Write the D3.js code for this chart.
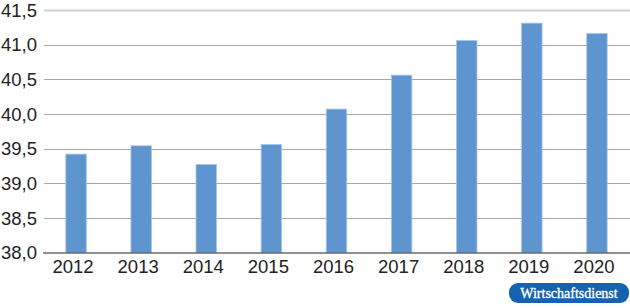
<!DOCTYPE html>
<html lang="de">
<head>
    <meta charset="UTF-8">
    <title>Wirtschaftsdienst chart</title>
    <script src="https://d3js.org/d3.v7.min.js"></script>
    <style>
        body { margin: 0; background: #fff; }
        svg { display: block; font-family: "Liberation Sans", Arial, sans-serif; }
    </style>
</head>
<body>
<div id="chart"></div>
<script>
    // data
    const years = ["2012", "2013", "2014", "2015", "2016", "2017", "2018", "2019", "2020"];
    const values = [39.42, 39.54, 39.27, 39.56, 40.07, 40.56, 41.06, 41.31, 41.16];
    const yTicks = [38.0, 38.5, 39.0, 39.5, 40.0, 40.5, 41.0, 41.5];

    const width = 630, height = 308;

    const x = d3.scaleBand()
        .domain(years)
        .range([43.5, 629.5])
        .paddingInner(0.685)
        .paddingOuter(0.3425);

    const y = d3.scaleLinear()
        .domain([38, 41.5])
        .range([252.5, 10]);

    const fmt = d => d3.format(".1f")(d).replace(".", ",");

    const svg = d3.select("#chart").append("svg")
        .attr("width", width)
        .attr("height", height);

    // gridlines
    svg.append("g")
        .selectAll("line")
        .data(yTicks.filter(d => d > 38))
        .join("line")
        .attr("x1", 44)
        .attr("x2", width)
        .attr("y1", d => Math.round(y(d)) + 0.5)
        .attr("y2", d => Math.round(y(d)) + 0.5)
        .attr("stroke", d => d === 41.5 ? "#cfcfcf" : "#a6a6a6")
        .attr("stroke-width", d => d === 41.5 ? 2 : 1);

    // y labels
    svg.append("g")
        .selectAll("text")
        .data(yTicks)
        .join("text")
        .attr("x", 37)
        .attr("y", d => y(d))
        .attr("dy", "0.36em")
        .attr("text-anchor", "end")
        .attr("font-size", 18.5)
        .attr("fill", "#222")
        .text(fmt);

    // bars
    svg.append("g")
        .selectAll("rect")
        .data(values)
        .join("rect")
        .attr("x", (d, i) => x(years[i]))
        .attr("width", x.bandwidth())
        .attr("y", d => y(d))
        .attr("height", d => y(38) - y(d))
        .attr("fill", "#5f95cf")
        .attr("stroke", "#a9c6ea")
        .attr("stroke-width", 0.8);

    // x axis line
    svg.append("line")
        .attr("x1", 43)
        .attr("x2", width)
        .attr("y1", 253)
        .attr("y2", 253)
        .attr("stroke", "#222")
        .attr("stroke-width", 1.2);

    // x labels
    svg.append("g")
        .selectAll("text")
        .data(years)
        .join("text")
        .attr("x", d => x(d) + x.bandwidth() / 2 - 3)
        .attr("y", 273)
        .attr("text-anchor", "middle")
        .attr("font-size", 18.5)
        .attr("fill", "#222")
        .text(d => d);

    // logo
    const logo = svg.append("g").attr("transform", "translate(509,283)");
    logo.append("rect")
        .attr("width", 120)
        .attr("height", 20)
        .attr("rx", 9)
        .attr("fill", "#1462b0");
    logo.append("text")
        .attr("x", 60)
        .attr("y", 14.5)
        .attr("text-anchor", "middle")
        .attr("font-family", "'Liberation Serif', 'DejaVu Serif', serif")
        .attr("font-size", 14)
        .attr("fill", "#fff")
        .attr("stroke", "#fff")
        .attr("stroke-width", 0.35)
        .text("Wirtschaftsdienst");
</script>
</body>
</html>
